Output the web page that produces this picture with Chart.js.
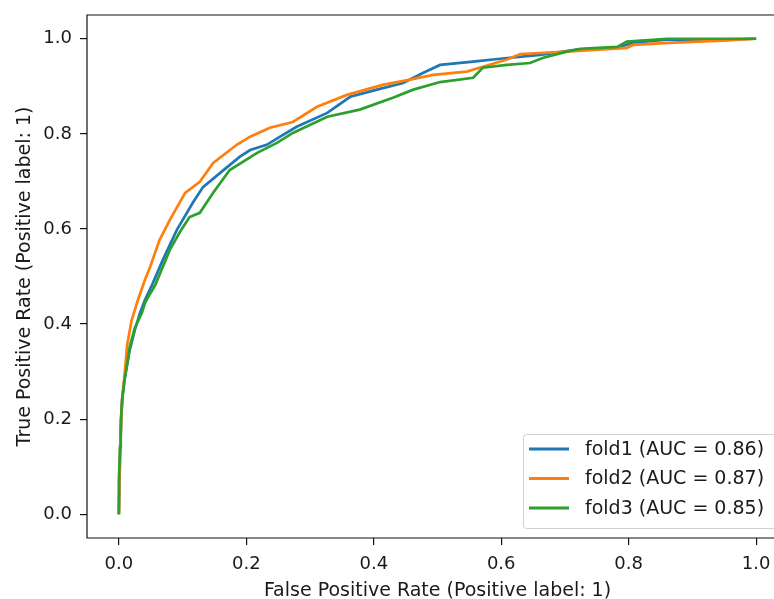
<!DOCTYPE html>
<html>
<head>
<meta charset="utf-8">
<script src="https://cdn.jsdelivr.net/npm/chart.js@4"></script>
<style>
  html, body { margin: 0; padding: 0; background: #fff; overflow: hidden; }
  #wrap { width: 800px; height: 599px; }
</style>
</head>
<body>
<div id="wrap"><canvas id="roc" width="800" height="599"></canvas></div>
<script>
// ROC points (false positive rate, true positive rate)
const fold1X = [0, 0.002, 0.005, 0.009, 0.017, 0.025, 0.033, 0.041, 0.052, 0.069, 0.091, 0.116, 0.132, 0.159, 0.190, 0.206, 0.232, 0.253, 0.279, 0.327, 0.363, 0.405, 0.446, 0.477, 0.504, 0.556, 0.598, 0.661, 0.719, 0.782, 0.807, 0.860, 0.943, 1.0];
const fold1Y = [0, 0.135, 0.24, 0.286, 0.345, 0.387, 0.423, 0.451, 0.482, 0.535, 0.598, 0.655, 0.688, 0.718, 0.752, 0.766, 0.777, 0.794, 0.815, 0.844, 0.878, 0.893, 0.907, 0.928, 0.945, 0.952, 0.958, 0.966, 0.977, 0.981, 0.992, 0.998, 0.998, 1.0];

const fold2X = [0, 0.002, 0.005, 0.009, 0.013, 0.020, 0.030, 0.041, 0.049, 0.064, 0.080, 0.104, 0.127, 0.148, 0.185, 0.206, 0.237, 0.273, 0.311, 0.358, 0.414, 0.457, 0.493, 0.546, 0.571, 0.608, 0.630, 0.703, 0.797, 0.807, 0.870, 0.948, 1.0];
const fold2Y = [0, 0.141, 0.24, 0.293, 0.356, 0.408, 0.451, 0.493, 0.520, 0.577, 0.619, 0.676, 0.699, 0.739, 0.777, 0.794, 0.813, 0.825, 0.857, 0.882, 0.903, 0.914, 0.924, 0.931, 0.941, 0.956, 0.968, 0.973, 0.981, 0.987, 0.992, 0.996, 1.0];

const fold3X = [0, 0, 0.002, 0.003, 0.006, 0.009, 0.014, 0.017, 0.025, 0.036, 0.041, 0.046, 0.057, 0.080, 0.096, 0.111, 0.127, 0.148, 0.174, 0.217, 0.248, 0.273, 0.327, 0.378, 0.430, 0.462, 0.504, 0.556, 0.571, 0.609, 0.645, 0.666, 0.703, 0.724, 0.782, 0.797, 0.860, 1.0];
const fold3Y = [0, 0.072, 0.141, 0.198, 0.251, 0.282, 0.324, 0.352, 0.392, 0.423, 0.444, 0.457, 0.482, 0.556, 0.594, 0.625, 0.634, 0.676, 0.724, 0.760, 0.781, 0.802, 0.836, 0.851, 0.876, 0.893, 0.909, 0.918, 0.939, 0.945, 0.949, 0.960, 0.973, 0.979, 0.983, 0.994, 1.0, 1.0];

const foldLabels = ['fold1 (AUC = 0.86)', 'fold2 (AUC = 0.87)', 'fold3 (AUC = 0.85)'];
const foldColors = ['#1f77b4', '#ff7f0e', '#2ca02c'];
const tickValues = [0, 0.2, 0.4, 0.6, 0.8, 1.0];

const toPoints = (xs, ys) => xs.map((x, i) => ({ x: x, y: ys[i] }));
const series = [toPoints(fold1X, fold1Y), toPoints(fold2X, fold2Y), toPoints(fold3X, fold3Y)];

const FONT = 'DejaVu Sans';
const textColor = '#1a1a1a';

// spines: left, top, bottom (the right one is cut off in the original picture)
const framePlugin = {
  id: 'frame',
  afterDatasetsDraw(chart) {
    const { ctx, chartArea: a } = chart;
    ctx.save();
    ctx.strokeStyle = '#111';
    ctx.lineWidth = 1.2;
    ctx.beginPath();
    ctx.moveTo(800, a.top);
    ctx.lineTo(a.left, a.top);
    ctx.lineTo(a.left, a.bottom);
    ctx.lineTo(800, a.bottom);
    ctx.stroke();
    ctx.restore();
  }
};

// legend drawn inside the plot, lower right
const innerLegend = {
  id: 'innerLegend',
  afterDraw(chart) {
    const ctx = chart.ctx;
    const bx = 523, by = 434, bw = 258, bh = 94;
    ctx.save();
    ctx.beginPath();
    ctx.roundRect(bx + 0.5, by + 0.5, bw, bh, 3);
    ctx.fillStyle = 'rgba(255,255,255,0.8)';
    ctx.fill();
    ctx.strokeStyle = '#d0d0d0';
    ctx.lineWidth = 1;
    ctx.stroke();
    ctx.font = '19px "' + FONT + '"';
    ctx.textBaseline = 'middle';
    ctx.fillStyle = textColor;
    chart.data.datasets.forEach((ds, i) => {
      const y = 449 + i * 29.5;
      ctx.beginPath();
      ctx.moveTo(529, y);
      ctx.lineTo(569, y);
      ctx.strokeStyle = ds.borderColor;
      ctx.lineWidth = 3;
      ctx.stroke();
      ctx.fillText(ds.label, 585, y + 1);
    });
    ctx.restore();
  }
};

const ctx = document.getElementById('roc');

const myChart = new Chart(ctx, {
  type: 'line',
  data: {
    datasets: series.map((pts, i) => ({
      label: foldLabels[i],
      data: pts,
      borderColor: foldColors[i],
      backgroundColor: 'transparent',
      borderWidth: 2.7,
      pointRadius: 0,
      lineTension: 0,
      order: 3 - i,  // fold3 on top, like matplotlib
    })),
  },
  options: {
    responsive: false,
    animation: false,
    layout: { padding: { top: 15, right: 12, left: 0, bottom: 0 } },
    scales: {
      x: {
        type: 'linear',
        min: -0.05,
        max: 1.05,
        afterBuildTicks: (s) => { s.ticks = tickValues.map(v => ({ value: v })); },
        afterFit: (s) => { s.height = 61; s.paddingLeft = 0; s.paddingRight = 0; },
        border: { display: false },
        grid: { drawOnChartArea: false, drawTicks: true, tickLength: 7, color: '#111', lineWidth: 1.2 },
        ticks: {
          color: textColor,
          padding: 9,
          maxRotation: 0,
          font: { family: FONT, size: 18 },
          callback: (v) => Number(v).toFixed(1),
        },
        title: {
          display: true,
          text: 'False Positive Rate (Positive label: 1)',
          color: textColor,
          font: { family: FONT, size: 19, lineHeight: 0.8 },
          padding: { top: 0, bottom: 0 },
        },
      },
      y: {
        type: 'linear',
        min: -0.05,
        max: 1.05,
        afterBuildTicks: (s) => { s.ticks = tickValues.map(v => ({ value: v })); },
        afterFit: (s) => { s.width = 87; s.paddingTop = 0; s.paddingBottom = 0; },
        border: { display: false },
        grid: { drawOnChartArea: false, drawTicks: true, tickLength: 7, color: '#111', lineWidth: 1.2 },
        ticks: {
          color: textColor,
          padding: 8,
          font: { family: FONT, size: 18 },
          callback: (v) => Number(v).toFixed(1),
        },
        title: {
          display: true,
          text: 'True Positive Rate (Positive label: 1)',
          color: textColor,
          font: { family: FONT, size: 19, lineHeight: 1 },
          padding: { top: 15.5, bottom: 0 },
        },
      },
    },
    plugins: {
      legend: { display: false },
      tooltip: { enabled: false },
    },
  },
  plugins: [framePlugin, innerLegend],
});
</script>
</body>
</html>
